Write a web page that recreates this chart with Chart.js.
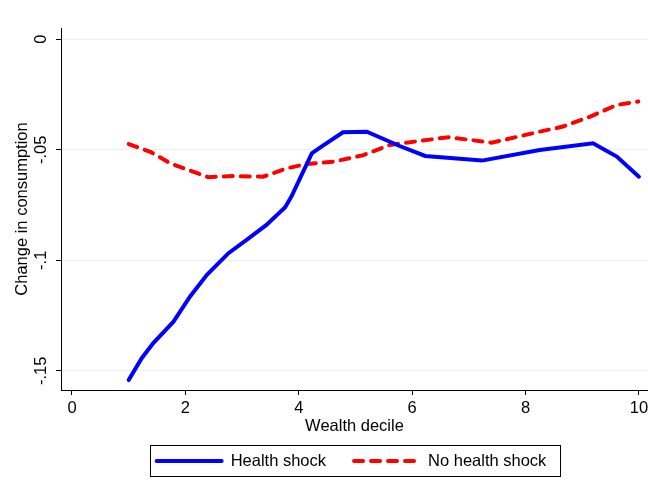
<!DOCTYPE html>
<html>
<head>
<meta charset="utf-8">
<script src="https://cdn.jsdelivr.net/npm/chart.js@4.4.0/dist/chart.umd.min.js"></script>
<style>
  html, body { margin: 0; padding: 0; background: #fff; }
</style>
</head>
<body>
<canvas id="consumptionChart" width="648" height="487"></canvas>
<script>
// Values: wealth decile (x) vs change in consumption (y)
const healthX = [1.0, 1.23, 1.43, 1.79, 2.08, 2.38, 2.76, 3.08, 3.43, 3.76, 3.87, 4.23, 4.40, 4.78, 5.20, 5.78, 6.23, 7.23, 8.25, 9.19, 9.61, 10.0];
const healthY = [-0.1542, -0.1443, -0.1376, -0.1278, -0.1165, -0.1066, -0.0968, -0.0908, -0.0840, -0.0760, -0.0712, -0.0516, -0.0486, -0.0421, -0.0418, -0.0483, -0.0528, -0.0549, -0.0501, -0.0471, -0.0531, -0.0622];
const noShockX = [1.0, 1.38, 1.73, 2.40, 2.84, 3.37, 3.79, 4.14, 4.61, 4.90, 5.14, 5.61, 6.64, 7.40, 8.25, 8.66, 9.14, 9.61, 9.99];
const noShockY = [-0.0474, -0.0509, -0.0561, -0.0624, -0.0619, -0.0622, -0.0584, -0.0564, -0.0554, -0.0538, -0.0524, -0.0478, -0.0443, -0.0468, -0.0418, -0.0395, -0.0350, -0.0297, -0.0282];

const xTicks = [0, 2, 4, 6, 8, 10];
const yTicks = [0, -0.05, -0.1, -0.15];
const yTickLabels = ["0", "-.05", "-.1", "-.15"];
const seriesLabels = ["Health shock", "No health shock"];

const FONT = "'Liberation Sans', Arial, sans-serif";
const FONT_SIZE = 16.5;

const toPoints = (xs, ys) => xs.map((x, i) => ({ x: x, y: ys[i] }));

// y tick labels are vertical in the original, so draw them here
const yLabelsPlugin = {
  id: "yLabels",
  afterDraw(chart) {
    const { ctx } = chart;
    const y = chart.scales.y;
    ctx.save();
    ctx.font = FONT_SIZE + "px " + FONT;
    ctx.fillStyle = "#000";
    ctx.textAlign = "center";
    ctx.textBaseline = "middle";
    yTicks.forEach((v, i) => {
      ctx.save();
      ctx.translate(41, y.getPixelForValue(v));
      ctx.rotate(-Math.PI / 2);
      ctx.fillText(yTickLabels[i], 0, 0);
      ctx.restore();
    });
    ctx.restore();
  }
};

// legend with a frame round it, centred under the plot area
const boxLegendPlugin = {
  id: "boxLegend",
  afterDraw(chart) {
    const { ctx, chartArea } = chart;
    const sampleLen = 65, textGap = 9, itemGap = 28;
    const midY = 461;
    ctx.save();
    ctx.font = FONT_SIZE + "px " + FONT;
    const items = chart.data.datasets.map(ds => ({ ds: ds, w: ctx.measureText(ds.label).width }));
    const total = items.reduce((s, it) => s + sampleLen + textGap + it.w, 0) + itemGap * (items.length - 1);
    let x = (chartArea.left + chartArea.right) / 2 - 3 - total / 2;

    ctx.strokeStyle = "#000";
    ctx.lineWidth = 1;
    ctx.strokeRect(Math.round(x - 7) + 0.5, 445.5, Math.round(total + 20), 31);

    items.forEach(it => {
      ctx.beginPath();
      ctx.strokeStyle = it.ds.borderColor;
      ctx.lineWidth = it.ds.borderWidth;
      ctx.lineCap = it.ds.borderCapStyle || "butt";
      ctx.setLineDash(it.ds.borderDash || []);
      ctx.moveTo(x, midY);
      ctx.lineTo(x + sampleLen, midY);
      ctx.stroke();
      ctx.setLineDash([]);
      ctx.fillStyle = "#000";
      ctx.textAlign = "left";
      ctx.textBaseline = "middle";
      ctx.fillText(it.ds.label, x + sampleLen + textGap, midY);
      x += sampleLen + textGap + it.w + itemGap;
    });
    ctx.restore();
  }
};

const ctx = document.getElementById("consumptionChart").getContext("2d");

new Chart(ctx, {
  type: "line",
  data: {
    datasets: [
      {
        label: seriesLabels[0],
        data: toPoints(healthX, healthY),
        borderColor: "#0000ff",
        borderWidth: 4,
        borderCapStyle: "round",
        pointRadius: 0,
        tension: 0,
        fill: false
      },
      {
        label: seriesLabels[1],
        data: toPoints(noShockX, noShockY),
        borderColor: "#ff0000",
        borderWidth: 4,
        borderDash: [9, 8],
        borderCapStyle: "round",
        pointRadius: 0,
        tension: 0,
        fill: false
      }
    ]
  },
  options: {
    responsive: false,
    animation: false,
    devicePixelRatio: 1,
    layout: { padding: { top: 28, right: 0, bottom: 52, left: 0 } },
    scales: {
      x: {
        type: "linear",
        min: -0.194,
        max: 10.16,
        afterBuildTicks: (s) => { s.ticks = xTicks.map(v => ({ value: v })); },
        afterFit: (s) => { s.height = 45; s.paddingLeft = 0; s.paddingRight = 0; },
        ticks: {
          autoSkip: false,
          maxRotation: 0,
          padding: 4,
          color: "#000",
          font: { family: FONT, size: FONT_SIZE }
        },
        grid: { drawOnChartArea: false, tickLength: 5, tickColor: "#000", tickWidth: 1 },
        border: { color: "#000", width: 1 },
        title: {
          display: true,
          text: "Wealth decile",
          color: "#000",
          padding: { top: 0, bottom: 0 },
          font: { family: FONT, size: FONT_SIZE, lineHeight: 1 }
        }
      },
      y: {
        min: -0.1587,
        max: 0.0051,
        afterBuildTicks: (s) => { s.ticks = yTicks.map(v => ({ value: v })); },
        afterFit: (s) => { s.width = 61; s.paddingTop = 0; s.paddingBottom = 0; },
        ticks: { display: false },
        grid: { color: "#eaf2f3", lineWidth: 1, tickLength: 5, tickColor: "#000", tickWidth: 1 },
        border: { color: "#000", width: 1 },
        title: {
          display: true,
          text: "Change in consumption",
          color: "#000",
          padding: { top: 13, bottom: 0 },
          font: { family: FONT, size: FONT_SIZE }
        }
      }
    },
    plugins: {
      legend: { display: false },
      tooltip: { enabled: false }
    }
  },
  plugins: [yLabelsPlugin, boxLegendPlugin]
});
</script>
</body>
</html>
